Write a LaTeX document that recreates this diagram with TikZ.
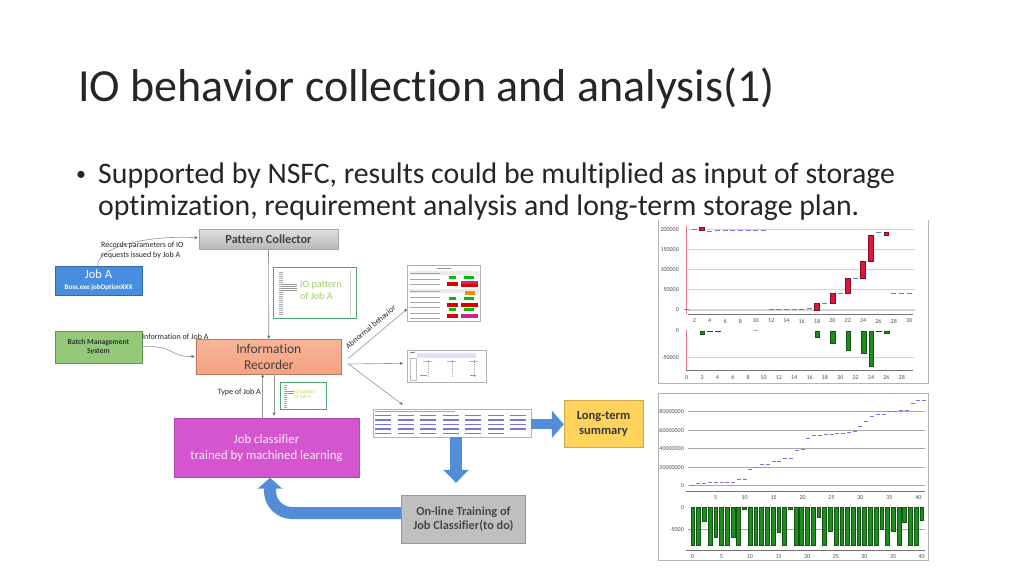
\documentclass[tikz,border=0pt]{standalone}
\usepackage{fontspec}
\setmainfont[Ligatures=NoCommon]{Carlito}
\usetikzlibrary{arrows.meta,calc}

\definecolor{titlegray}{RGB}{38,38,38}
\definecolor{linegray}{RGB}{150,150,150}
\definecolor{tipblue}{RGB}{80,110,150}
\definecolor{jobblue}{RGB}{72,142,222}
\definecolor{batchgreen}{RGB}{148,201,122}
\definecolor{recsalmon}{RGB}{246,162,128}
\definecolor{classmag}{RGB}{211,86,206}
\definecolor{sumgold}{RGB}{255,211,92}
\definecolor{traingray}{RGB}{191,191,191}
\definecolor{flowblue}{RGB}{83,141,213}
\definecolor{patgreen}{RGB}{160,205,100}
\definecolor{candlered}{RGB}{225,20,60}
\definecolor{dashblue}{RGB}{118,118,222}
\definecolor{bargreen}{RGB}{30,140,30}
\definecolor{gridgray}{RGB}{212,212,212}

\tikzset{
  box/.style={draw, inner sep=0pt, align=center},
  conn/.style={draw=linegray, line width=0.6pt, -{Stealth[length=3.5pt,width=3.2pt,color=tipblue]}},
  lbl/.style={inner sep=0pt, text=titlegray, font=\fontsize{8}{9.5}\selectfont, align=left},
  shot/.style={draw=black!30, fill=white, inner sep=0pt, line width=0.6pt},
  tick/.style={inner sep=0pt, text=black!70, font=\fontsize{6}{7}\selectfont},
  gridA/.style={draw=gridgray, line width=1.6pt},
  gridB/.style={draw=black!35, line width=0.7pt},
  axisline/.style={draw=black!55, line width=0.7pt},
  dashmk/.style={draw=dashblue, line width=1.1pt},
  candle/.style={draw=candlered!60!black, fill=candlered, line width=0.4pt},
  bar/.style={draw=bargreen!60!black, fill=bargreen, line width=0.3pt}
}

\begin{document}
\begin{tikzpicture}[x=1pt,y=-1pt]
  \useasboundingbox (0,0) rectangle (1024,576);
  \fill[white] (0,0) rectangle (1024,576);

  % title and bullet
  \node[anchor=base west, inner sep=0pt, text=titlegray, font=\fontsize{46}{52}\selectfont] (title) at (78,101) {IO behavior collection and analysis(1)};
  \node[anchor=base, inner sep=0pt, text=titlegray, font=\fontsize{20}{24}\selectfont] (dot) at (81,180) {•};
  \node[anchor=base west, inner sep=0pt, text=titlegray, font=\fontsize{29.8}{32}\selectfont] (bodyA) at (98,183) {Supported by NSFC, results could be multiplied as input of storage};
  \node[anchor=base west, inner sep=0pt, text=titlegray, font=\fontsize{29.8}{32}\selectfont] (bodyB) at (98,215) {optimization, requirement analysis and long-term storage plan.};

  % boxes
  \node[box, draw=black!35, top color=black!12, bottom color=black!28, minimum width=139pt, minimum height=20pt, text=black!75, font=\bfseries\fontsize{12.3}{13}\selectfont] (collector) at (268.5,239.3) {Pattern Collector};
  \node[box, draw=jobblue!75!black, fill=jobblue, minimum width=87pt, minimum height=29pt, text=white] (joba) at (98.5,280.3) {{\fontsize{12.5}{12}\selectfont Job A}\\[-1pt]{\bfseries\fontsize{7}{7}\selectfont Boss.exe jobOptionXXX}};
  \node[box, draw=batchgreen!70!black, fill=batchgreen, minimum width=87pt, minimum height=32pt, text=black!80, font=\bfseries\fontsize{7.6}{9.5}\selectfont] (batch) at (98.5,346.7) {Batch Management\\System};
  \node[box, draw=recsalmon!75!black, top color=recsalmon!80, bottom color=recsalmon, minimum width=145.7pt, minimum height=35pt, text=black!75, font=\fontsize{13.5}{16}\selectfont] (recorder) at (268.8,356.5) {Information\\Recorder};
  \node[box, draw=classmag!85!black, fill=classmag, minimum width=185pt, minimum height=59pt, text=white!88!classmag, font=\fontsize{12.8}{15.5}\selectfont] (classifier) at (266.5,448) {Job classifier\\trained by machined learning};
  \node[box, draw=sumgold!80!black, fill=sumgold, minimum width=79pt, minimum height=47pt, text=black!78, font=\bfseries\fontsize{12.5}{15}\selectfont] (summary) at (603.5,423.5) {Long-term\\summary};
  \node[box, draw=black!40, fill=traingray, minimum width=123.5pt, minimum height=48pt, text=black!72, font=\bfseries\fontsize{12.3}{14.5}\selectfont] (training) at (463.4,519) {On-line Training of\\Job Classifier(to do)};

  % pattern pictures
  \node[shot, draw=patgreen!50!teal, line width=1pt, minimum width=83pt, minimum height=51pt] (patA) at (314.5,292.5) {};
  \node[shot, draw=patgreen!50!teal, line width=0.8pt, minimum width=45.5pt, minimum height=26.6pt] (patB) at (303.5,396) {};
  \foreach \y in {272,274,...,314} \draw[black!35, line width=0.4pt] (279,\y) -- ++(4,0);
  \foreach \y in {284,286,288,290} \draw[black!40, line width=0.5pt] (281,\y) -- ++(16,0);
  \draw[black!20, line width=0.6pt] (350,270) -- (350,316);
  \node[inner sep=0pt, anchor=west, align=left, text=patgreen, font=\fontsize{10}{11.5}\selectfont] (patAtxt) at (300,290.5) {IO pattern\\of Job A};
  \foreach \y in {385,387,...,407} \draw[black!35, line width=0.3pt] (284,\y) -- ++(2.5,0);
  \foreach \y in {391,393} \draw[black!40, line width=0.4pt] (285,\y) -- ++(9,0);
  \node[inner sep=0pt, anchor=west, align=left, text=patgreen!80!yellow, font=\fontsize{5.2}{5.5}\selectfont] (patBtxt) at (294,394.2) {IO pattern\\of Job A};

  % screenshots
  \node[shot, minimum width=73.4pt, minimum height=56.7pt] (shotA) at (444,293.3) {};
  \draw[black!40, line width=0.6pt] (437,268.5) -- (451,268.5);
  \fill[black!8] (409,271) rectangle (479,275);
  \fill[black!8] (409,289) rectangle (479,293);
  \foreach \y in {273,279,284,291,297,302,307,313,318} \draw[black!35, line width=0.6pt] (410,\y) -- (440,\y);
  \foreach \y in {276,297,308} {
    \fill[green!75!black] (449,\y) rectangle ++(7,3);
    \fill[green!75!black] (464,\y) rectangle ++(10,3);
  }
  \foreach \y in {282,303,314} \fill[red!85!black] (447,\y) rectangle ++(11,3.5);
  \fill[magenta!70!violet] (461,280.5) rectangle ++(17,3);
  \fill[red!85!black] (461,283.5) rectangle ++(17,3);
  \fill[orange!90!yellow] (465,291) rectangle ++(10,3.5);
  \fill[red!85!black] (461,303) rectangle ++(17,3.5);
  \fill[magenta!70!violet] (461,314) rectangle ++(17,3.5);

  \node[shot, minimum width=78.7pt, minimum height=32.7pt] (shotB) at (446.7,366.3) {};
  \fill[blue!12] (417,352.5) rectangle (476,357.5);
  \draw[black!60, line width=0.8pt] (410,353) -- (415,352);
  \draw[black!25, line width=0.5pt] (410,358) rectangle (416,380);
  \foreach \x in {428,452,474} \draw[black!35, line width=0.8pt, dash pattern=on 1pt off 1pt] (\x,360) -- (\x,377);
  \foreach \x in {423,447,469} \draw[black!30, line width=0.5pt] (\x,361) -- ++(9,0);
  \draw[black!40, line width=0.6pt] (420,375) -- ++(7,0);
  \draw[black!40, line width=0.6pt] (470,375) -- ++(6,0);

  % table
  \node[shot, minimum width=158pt, minimum height=28pt] (table) at (452,423) {};
  \draw[black!35, line width=0.8pt] (375,411.5) -- (455,411.5);
  \foreach \r in {0,...,4} \foreach \c in {0,...,6} {
    \ifnum\r\c=46 \else \draw[dashblue, line width=1.2pt] ({375+\c*22.5},{415.5+\r*4.5}) -- ++(16,0); \fi
  }

  % thick flow arrows
  \draw[flowblue, line width=10pt, -{Triangle[width=27pt,length=12pt]}] (table.east |- 0,424.3) -- (summary.west |- 0,424.3);
  \draw[flowblue, line width=12pt, -{Triangle[width=25pt,length=13pt]}] (table.south -| 456,0) -- ($(training.north -| 456,0)+(0,-12)$);
  \draw[flowblue, line width=12pt, rounded corners=22pt, -{Triangle[width=24pt,length=11pt]}] ($(training.west)+(0,-6)$) -| ($(classifier.south)+(3.5,0)$);

  % thin connectors
  \draw[conn] ($(joba.north)+(-1,0)$) .. controls (98,246) and (150,235) .. ($(collector.west)+(-1,-1.5)$);
  \draw[conn] (batch.east) .. controls (176,345) and (168,357) .. ($(recorder.west)+(-1,0)$);
  \draw[conn] (collector.south) -- (recorder.north);
  \draw[conn] ($(recorder.east)+(6.5,2)$) -- ($(shotA.south west)+(0,-13)$);
  \draw[conn] ($(recorder.east)+(6.5,7.5)$) -- ($(shotB.west)+(-4,-3)$);
  \draw[conn] ($(recorder.east)+(6.5,7.5)$) -- ($(table.north)+(-49.3,-4)$);
  \draw[conn] ($(classifier.north)+(-3.8,0)$) -- ($(classifier.north |- recorder.south)+(-3.8,0)$);
  \draw[conn] ($(recorder.south)+(5.2,0)$) -- ($(recorder.south |- classifier.north)+(5.2,-2.5)$);

  % connector labels
  \node[lbl, anchor=west] (reclbl) at (101,250.5) {Records parameters of IO\\requests issued by Job A};
  \node[lbl, anchor=west] (infolbl) at (142,336.7) {Information of Job A};
  \node[lbl, anchor=east] (typelbl) at (261,392.3) {Type of Job A};
  \node[lbl, rotate=40, font=\fontsize{8}{9}\selectfont] (abnlbl) at (370.5,327) {Abnormal behavior};

  % chart one
  \draw[black!30, line width=0.6pt] (658.5,220) -- (658.5,383) -- (928,383) -- (928,220);
  \foreach \v/\t in {0/0,50/50000,100/100000,150/150000,200/200000} {
    \draw[gridA] (688,{309.7-0.402*\v}) -- (915,{309.7-0.402*\v});
    \node[tick, anchor=east] (ya\v) at (679,{309.7-0.402*\v}) {\t};
  }
  \draw[candlered!60, line width=0.6pt] (686,226) -- (686,314);
  \draw[axisline] (688,314) -- (913,314);
  \foreach \n in {2,4,...,30} \node[tick] (xa\n) at ({679+7.67*\n},321) {\n};
  \foreach \n/\v in {1/0,2/200,4/195,5/198,6/197,7/197,8/197,9/197,10/197,11/197,12/0,13/0,14/0,15/0,16/0,17/2,19/15,21/40,23/78,26/192,28/40,29/40,30/40}
    \draw[dashmk] ({679+7.67*\n-2.5},{309.7-0.402*\v}) -- ++(5,0);
  \foreach \n/\a/\b in {3/199/206,18/0/15,20/15/40,22/40/78,24/78/120,25/120/185,27/185/192}
    \draw[candle] ({679+7.67*\n-2.4},{309.7-0.402*\a}) rectangle ++(4.8,{-0.402*(\b-\a)});

  \draw[gridA] (688,357.3) -- (915,357.3);
  \node[tick, anchor=east] (yb0) at (679,330.7) {0};
  \node[tick, anchor=east] (yb1) at (679,357.3) {-50000};
  \draw[candlered!60, line width=0.6pt] (686,330) -- (686,370.7);
  \draw[axisline] (686,370.7) -- (913,370.7);
  \foreach \n in {0,2,...,28} \node[tick] (xb\n) at ({686.7+7.68*\n},377.5) {\n};
  \draw[black!30, line width=0.8pt] ({686.7+7.68*9-2.5},330.7) -- ++(5,0);
  \foreach \n/\v in {2/6,3/1.5,4/0.8,17/13,19/24,21/37,23/42,24/66,25/0.8,26/5}
    \draw[bar] ({686.7+7.68*\n-2.3},330.7) rectangle ++(4.6,{0.532*\v});

  % chart two
  \draw[black!30, line width=0.6pt] (658.5,393) rectangle (928,560);
  \foreach \v/\t in {0/0,20/20000000,40/40000000,60/60000000,80/80000000} {
    \draw[gridB] (688,{485.7-0.925*\v}) -- (925,{485.7-0.925*\v});
    \node[tick, anchor=east] (yc\v) at (684,{485.7-0.925*\v}) {\t};
  }
  \draw[axisline] (686,491) -- (925,491);
  \foreach \n in {5,10,...,40} \node[tick] (xc\n) at ({686.8+5.789*\n},497.3) {\n};
  \foreach \n/\v in {1/0,2/2.2,3/2.2,4/3,5/3,6/4,7/4,8/4,9/6.5,10/6.5,11/18,12/20,13/22.7,14/22.7,15/26,16/26,17/29.6,18/29.6,19/38,20/39,21/51.5,22/54.5,23/54.5,24/55,25/55,26/56,27/56,28/58,29/59,30/63.5,31/69.5,32/75,33/77,34/77,35/80,36/80,37/81,38/81,39/89,40/92,41/92}
    \draw[dashmk, line width=1pt] ({686.8+5.789*\n-2},{485.7-0.925*\v}) -- ++(4,0);

  \draw[gridB] (688,529.7) -- (925,529.7);
  \node[tick, anchor=east] (yd0) at (684,507.3) {0};
  \node[tick, anchor=east] (yd1) at (684,529.7) {-5000};
  \draw[axisline] (686,550) -- (925,550);
  \foreach \n in {0,5,...,40} \node[tick] (xd\n) at ({692.7+5.725*\n},556.3) {\n};
  \foreach \n/\v in {0/84.5,1/84.5,2/31,3/84.5,4/68,5/84.5,6/84.5,7/66,8/84.5,9/4.5,10/84.5,11/84.5,12/84.5,13/84.5,14/84.5,15/56,16/84.5,17/5,18/84.5,19/84.5,20/84.5,21/84.5,22/23,23/84.5,24/54,25/84.5,26/84.5,27/84.5,28/84.5,29/84.5,30/84.5,31/84.5,32/84.5,33/49,34/84.5,35/53,36/84.5,37/33,38/84.5,39/84.5,40/28}
    \draw[bar] ({692.7+5.725*\n-1.9},507.3) rectangle ++(3.8,{0.446*\v});
\end{tikzpicture}
\end{document}
